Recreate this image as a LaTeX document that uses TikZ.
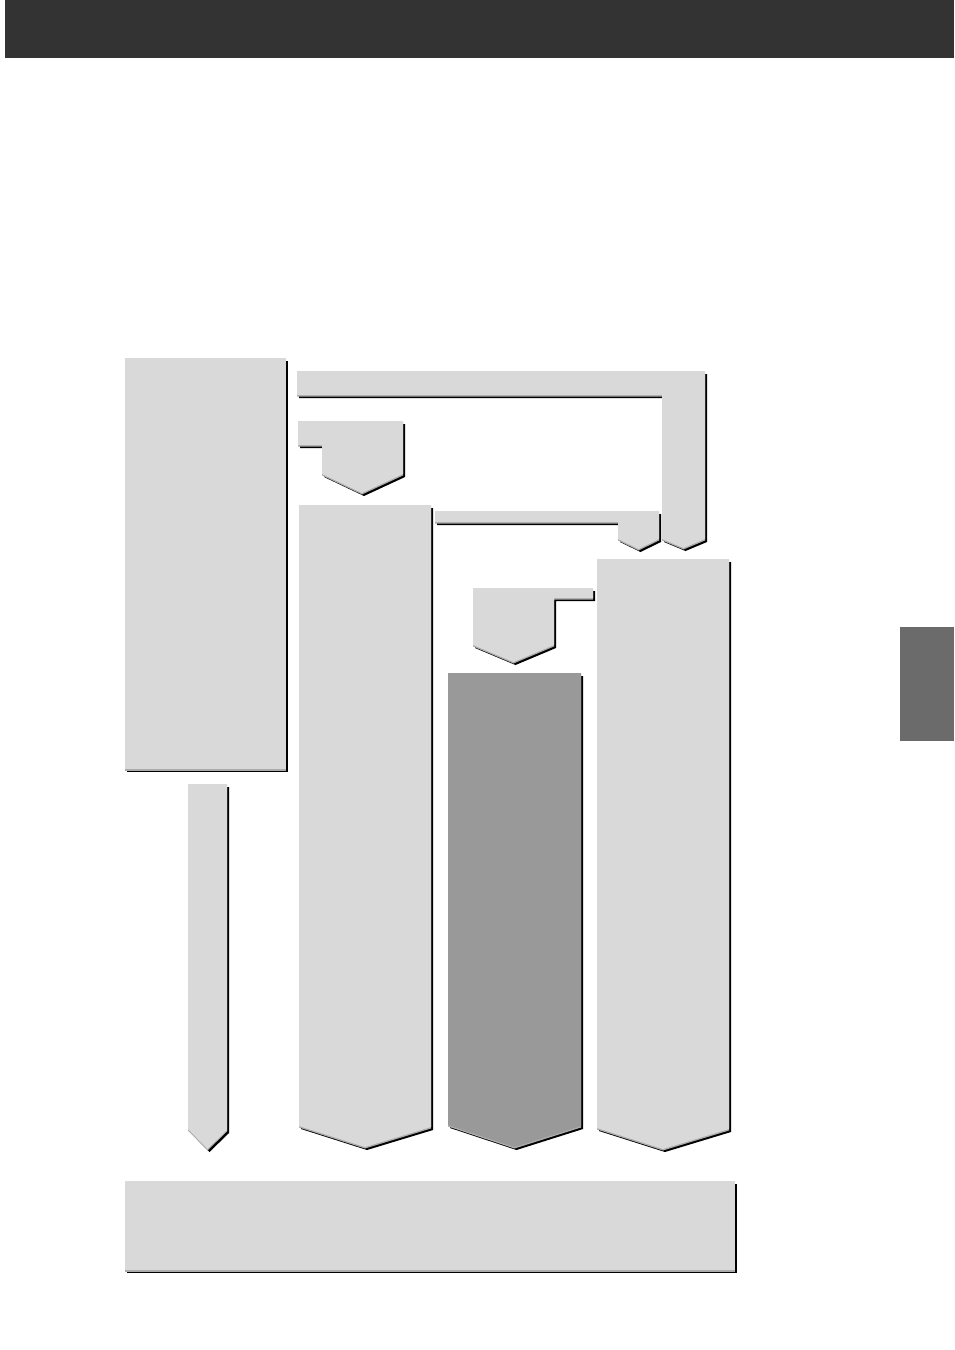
\documentclass[tikz,border=0pt]{standalone}
\usepackage{tikz}
\definecolor{panelgray}{HTML}{D9D9D9}
\definecolor{darkpanel}{HTML}{999999}
\definecolor{bevelgray}{HTML}{ABABAB}
\definecolor{headgray}{HTML}{333333}
\definecolor{tabgray}{HTML}{6B6B6B}
\begin{document}
\begin{tikzpicture}[x=1pt,y=-1pt,
	panel/.style={fill=#1,
		preaction={fill=black,transform canvas={shift={(2pt,-3pt)}}},
		preaction={fill=bevelgray,transform canvas={shift={(0pt,-1.5pt)}}}},
	panel/.default=panelgray]
	\useasboundingbox (0,0) rectangle (954,1350);
	\fill[headgray] (5,0) rectangle (954,58);
	\fill[tabgray] (900,627) rectangle (954,741);
	
	% left box and its thin arrow
	\path[panel] (125,358) rectangle (286,769);
	\path[panel] (188,784) -- (227,784) -- (227,1130) -- (207.5,1149) -- (188,1129) -- cycle;
	
	% connectors
	\path[panel] (297,371) -- (705,371) -- (705,539) -- (683.5,548) -- (662,539) -- (662,395) -- (297,395) -- cycle;
	\path[panel] (298,421) -- (403,421) -- (403,474) -- (362,493) -- (322,474) -- (322,445) -- (298,445) -- cycle;
	\path[panel] (435,511) -- (659,511) -- (659,539) -- (638.5,549) -- (618,539) -- (618,522) -- (435,522) -- cycle;
	\path[panel] (473,588) -- (593,588) -- (593,598) -- (554,598) -- (554,645) -- (513.5,662) -- (473,645) -- cycle;
	
	% columns
	\path[panel] (299,505) -- (431,505) -- (431,1127) -- (365,1147) -- (299,1126) -- cycle;
	\path[panel=darkpanel] (448,673) -- (581,673) -- (581,1126) -- (514.5,1147) -- (448,1125) -- cycle;
	\path[panel] (597,559) -- (729,559) -- (729,1129) -- (663,1149) -- (597,1128) -- cycle;
	
	\path[panel] (125,1181) rectangle (735,1270);
\end{tikzpicture}
\end{document}
